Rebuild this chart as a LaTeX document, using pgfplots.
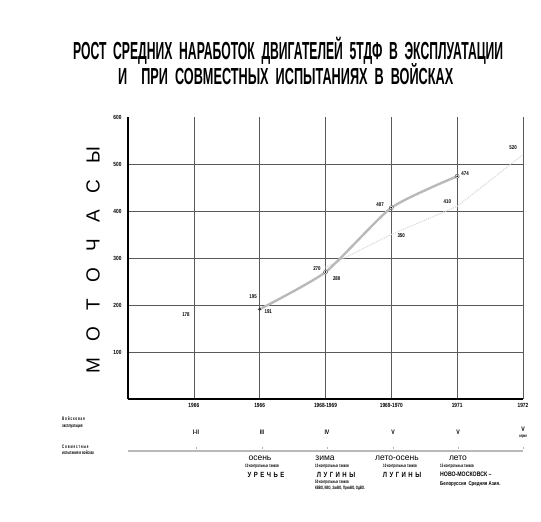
\documentclass[border=0pt]{standalone}
\usepackage{pgfplots}
\pgfplotsset{compat=1.18}
\usepackage{fontspec}
\setmainfont{Liberation Sans}
\newfontfamily\cond[FakeStretch=0.8]{Liberation Sans}
\newfontfamily\ncond[FakeStretch=0.6]{Liberation Sans}
\newcommand\ws{\hspace{0.55em}}
\begin{document}
\begin{tikzpicture}
\useasboundingbox (0pt,0pt) rectangle (541pt,-522pt);
\begin{axis}[
  at={(128pt,-399pt)}, anchor=south west,
  width=395pt, height=282pt, scale only axis,
  xmin=0, xmax=6, ymin=0, ymax=600,
  axis x line=bottom, axis y line=left,
  x axis line style={-, line width=1.6pt},
  y axis line style={-, line width=1.6pt},
  xtick={1,...,6},
  xticklabels={1966,1966,1968-1969,1969-1970,1971,1972},
  ytick={100,200,300,400,500},
  extra y ticks={600}, extra y tick style={grid=none},
  major tick length=0pt,
  grid=major,
  major grid style={black!65, line width=0.35pt},
  tick label style={font=\cond\bfseries\fontsize{6}{6}\selectfont},
  /pgf/number format/assume math mode=true,
  /pgf/number format/1000 sep={},
  xticklabel style={yshift=-1pt},
  yticklabel style={xshift=-3pt},
  clip=false,
]
% joint trials in troops (faint dotted)
\addplot[gray!30, densely dotted, line width=1.1pt] coordinates {(3,280)(4,350)(5,410)(6,520)};
% troop operation (main grey line)
\addplot[gray!55, line width=2.4pt, smooth, tension=0.35] coordinates {(2,191)(3,270)(4,407)(5,474)};
\addplot[only marks, mark=*, mark size=2pt, mark options={fill=white, draw=black!75, line width=0.4pt}] coordinates {(3,270)(4,407)(5,474)};
\addplot[only marks, mark=*, mark size=0.6pt, black] coordinates {(2,191)(3,270)(4,407)(5,474)};
\addplot[only marks, mark=*, mark size=1.2pt, black!80] coordinates {(2,191)};
% value labels
\begin{scope}[every node/.style={font=\cond\bfseries\fontsize{5.5}{5.5}\selectfont, inner sep=0pt}]
\node at (axis cs:0.88,179) {178};
\node at (axis cs:1.90,217) {195};
\node at (axis cs:2.13,187) {191};
\node at (axis cs:2.87,277) {270};
\node at (axis cs:3.17,257) {280};
\node at (axis cs:3.83,413) {407};
\node at (axis cs:4.15,347) {350};
\node at (axis cs:5.12,479) {474};
\node at (axis cs:4.85,421) {410};
\node at (axis cs:5.85,534) {520};
\end{scope}
\end{axis}
\begin{scope}[x=1pt, y=-1pt]
% title
\node[anchor=base west, inner sep=0pt] at (73,59) {\resizebox{430pt}{17pt}{\raisebox{0pt}[0.69em][0pt]{\bfseries РОСТ\ws СРЕДНИХ\ws НАРАБОТОК\ws ДВИГАТЕЛЕЙ\ws 5ТДФ\ws В\ws ЭКСПЛУАТАЦИИ}}};
\node[anchor=base west, inner sep=0pt] at (118,84) {\resizebox{335pt}{16pt}{\raisebox{0pt}[0.69em][0pt]{\bfseries И\hspace{1.1em}ПРИ\ws СОВМЕСТНЫХ\ws ИСПЫТАНИЯХ\ws В\ws ВОЙСКАХ}}};
% y label
\node[rotate=90, inner sep=0pt] at (93,260) {\fontsize{19}{19}\selectfont\makebox[226pt]{М\hfill О\hfill Т\hfill О\hfill Ч\hfill А\hfill С\hfill Ы}};
% row labels
\begin{scope}[every node/.style={anchor=base west, inner sep=0pt, font=\ncond\bfseries\fontsize{5}{5}\selectfont}]
\node at (62,420) {В\,о\,й\,с\,к\,о\,в\,а\,я};
\node at (62,427) {эксплуатация};
\node at (62,448) {С\,о\,в\,м\,е\,с\,т\,н\,ы\,е};
\node at (62,454) {испытания в войсках};
\end{scope}
% series row
\begin{scope}[every node/.style={anchor=base, inner sep=0pt, font=\cond\bfseries\fontsize{6.5}{6.5}\selectfont}]
\node at (196,434) {I-II};
\node at (262,434) {III};
\node at (327,434) {IV};
\node at (393,434) {V};
\node at (458,434) {V};
\node at (523,431) {V};
\node[font=\ncond\bfseries\fontsize{4.5}{4.5}\selectfont] at (523,437) {серия};
\end{scope}
% band of joint trials
\draw[gray!55, line width=1.6pt] (128,451) -- (523,451);
\foreach \xx in {196,262,327,393,458,523} \draw[gray!60, line width=0.4pt] (\xx,446.5) -- (\xx,449);
% annotations
\begin{scope}[every node/.style={anchor=base, inner sep=0pt}]
\def\sea{\fontsize{8.5}{8.5}\selectfont}
\def\tnk{\ncond\bfseries\fontsize{4.8}{4.8}\selectfont}
\def\plc{\cond\bfseries\fontsize{7.5}{7.5}\selectfont}
\node[font=\sea] at (260,460) {осень};
\node[font=\tnk] at (262,467) {10 контрольных танков};
\node[font=\plc] at (266,477) {У\,\,Р\,\,Е\,\,Ч\,\,Ь\,\,Е};
\node[font=\sea] at (325,460) {зима};
\node[font=\tnk] at (332,467) {10 контрольных танков};
\node[font=\plc] at (336,477) {Л\,\,У\,\,Г\,\,И\,\,Н\,\,Ы};
\node[font=\tnk] at (332,483) {50 контрольных танков};
\node[font=\tnk] at (340,489) {КВВО, КВО, ЗакВО, ПрикВО, ОдВО.};
\node[font=\sea] at (397,460) {лето-осень};
\node[font=\tnk] at (400,467) {10 контрольных танков};
\node[font=\plc] at (402,477) {Л\,\,У\,\,Г\,\,И\,\,Н\,\,Ы};
\node[font=\sea] at (458,460) {лето};
\node[font=\tnk, anchor=base west] at (440,467) {15 контрольных танков};
\node[font=\cond\bfseries\fontsize{6.5}{6.5}\selectfont, anchor=base west] at (440,476) {НОВО-МОСКОВСК –};
\node[font=\cond\bfseries\fontsize{5.5}{5.5}\selectfont, anchor=base west] at (440,485) {Белоруссия\, Средняя Азия.};
\end{scope}
\end{scope}
\end{tikzpicture}
\end{document}
